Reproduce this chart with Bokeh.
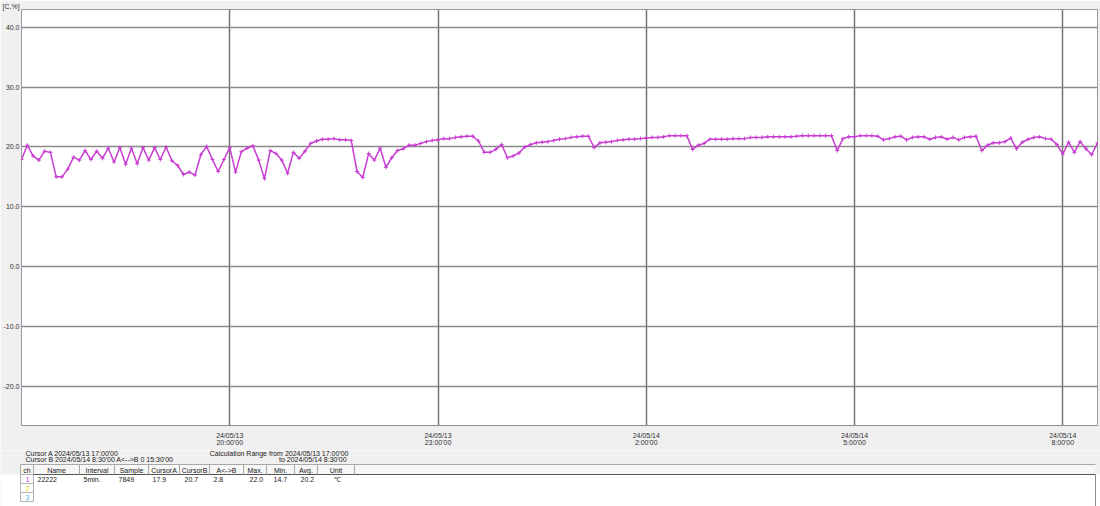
import pandas as pd
from bokeh.plotting import figure
from bokeh.layouts import column
from bokeh.models import Range1d, FixedTicker, ColumnDataSource, DatetimeAxis
from bokeh.embed import file_html
from bokeh.resources import INLINE
from bokeh.core.properties import value

FONT_NAME = "Liberation Sans"
FONT = value(FONT_NAME)
FS = "7px"

# channel 1 "22222" [°C], 5-minute samples from 2024/05/13 17:00 to 2024/05/14 8:30
temps_17_20 = [17.9, 20.3, 18.5, 17.8, 19.3, 19.1, 15.0, 15.0, 16.3, 18.3, 17.8, 19.4,
               17.9, 19.3, 18.1, 19.8, 17.5, 19.9, 17.1, 19.8, 17.2, 19.9, 17.8, 19.9,
               17.9, 20.0, 17.7, 16.9, 15.4, 15.8, 15.3, 18.7, 20.1, 17.9, 15.9, 17.9]
temps_20_23 = [19.9, 15.8, 19.2, 19.8, 20.2, 17.8, 14.7, 19.4, 18.9, 17.8, 15.6, 19.1,
               18.1, 19.3, 20.6, 21.0, 21.3, 21.3, 21.4, 21.2, 21.2, 21.1, 15.9, 14.9,
               18.9, 17.8, 19.8, 16.6, 18.2, 19.4, 19.7, 20.3, 20.3, 20.6, 20.9, 21.1]
temps_23_02 = [21.2, 21.4, 21.4, 21.6, 21.7, 21.8, 21.8, 21.0, 19.1, 19.1, 19.6, 20.4,
               18.2, 18.5, 19.0, 20.0, 20.4, 20.7, 20.8, 20.9, 21.1, 21.3, 21.4, 21.6,
               21.7, 21.8, 21.8, 19.9, 20.7, 20.8, 20.9, 21.1, 21.2, 21.3, 21.3, 21.4]
temps_02_05 = [21.5, 21.6, 21.6, 21.7, 21.9, 21.9, 21.9, 21.9, 19.6, 20.3, 20.6, 21.3,
               21.3, 21.3, 21.3, 21.4, 21.4, 21.4, 21.6, 21.6, 21.6, 21.7, 21.7, 21.7,
               21.7, 21.7, 21.8, 21.9, 21.9, 21.9, 21.9, 21.9, 21.9, 19.4, 21.4, 21.7]
temps_05_08 = [21.7, 21.9, 21.9, 21.9, 21.8, 21.2, 21.4, 21.7, 21.8, 21.2, 21.6, 21.7,
               21.7, 21.3, 21.6, 21.7, 21.3, 21.6, 21.2, 21.6, 21.7, 21.8, 19.4, 20.3,
               20.7, 20.7, 20.9, 21.5, 19.7, 20.8, 21.3, 21.6, 21.7, 21.4, 21.3, 20.4]
temps_08_0830 = [18.8, 20.8, 19.1, 20.9, 19.7, 18.7, 20.7]

start_time = "2024-05-13 17:00"
end_time = "2024-05-14 08:30"
sample_interval = "5min"

y_ticks = [40, 30, 20, 10, 0, -10, -20]
y_tick_labels = ["40.0", "30.0", "20.0", "10.0", "0.0", "-10.0", "-20.0"]
x_tick_times = ["2024-05-13 20:00", "2024-05-13 23:00", "2024-05-14 02:00",
                "2024-05-14 05:00", "2024-05-14 08:00"]
x_tick_labels = ["24/05/13\n20:00'00", "24/05/13\n23:00'00", "24/05/14\n2:00'00",
                 "24/05/14\n5:00'00", "24/05/14\n8:00'00"]

cursor_lines = ["Cursor A 2024/05/13 17:00'00",
                "Cursor B 2024/05/14  8:30'00  A<-->B 0 15:30'00"]
calc_lines = ["Calculation Range from 2024/05/13 17:00'00",
              "to 2024/05/14  8:30'00"]
table_headers = ["ch", "Name", "Interval", "Sample", "CursorA", "CursorB",
                 "A<->B", "Max.", "Min.", "Avg.", "Unit"]
table_row1 = ["1", "22222", "5min.", "7849", "17.9", "20.7", "2.8", "22.0", "14.7", "20.2", "℃"]
channel_ids = ["1", "2", "3"]
channel_colors = ["#c83cd2", "#e6d200", "#3cb4dc"]

temps = temps_17_20 + temps_20_23 + temps_23_02 + temps_02_05 + temps_05_08 + temps_08_0830
times = pd.date_range(start_time, periods=len(temps), freq=sample_interval)

def ms(t):
    return pd.Timestamp(t).value // 10**6

# ---------- main chart ----------
W = 1100
H1 = 450
x0, x1 = ms(start_time), ms(end_time)
y0, y1 = -26.61, 43.01

p = figure(width=W, height=H1, x_axis_type="datetime",
           x_range=Range1d(x0, x1), y_range=Range1d(y0, y1),
           output_backend="svg", toolbar_location=None,
           min_border_left=21, min_border_right=3,
           min_border_top=9, min_border_bottom=25)
p.frame_align = False
p.border_fill_color = "#f0f0f0"
p.background_fill_color = "white"
p.outline_line_color = "#9a9a9a"

# unit caption in the top strip
p.title.text = "[C,%]"
p.title.text_font = FONT_NAME
p.title.text_font_size = FS
p.title.text_font_style = "normal"
p.title.text_color = "#303030"
p.title.standoff = 0
p.title.offset = -19

xaxis = p.xaxis[0]
tick_ms = [ms(t) for t in x_tick_times]
xaxis.ticker = FixedTicker(ticks=tick_ms)
xaxis.major_label_overrides = {t: l for t, l in zip(tick_ms, x_tick_labels)}
p.yaxis.ticker = FixedTicker(ticks=y_ticks)
p.yaxis.major_label_overrides = {t: l for t, l in zip(y_ticks, y_tick_labels)}

for ax in (xaxis, p.yaxis[0]):
    ax.major_tick_out = 0
    ax.major_tick_in = 0
    ax.minor_tick_out = 0
    ax.minor_tick_in = 0
    ax.axis_line_color = None
    ax.major_label_text_font = FONT_NAME
    ax.major_label_text_font_size = FS
    ax.major_label_text_color = "#303030"
xaxis.major_label_standoff = 6
xaxis.major_label_text_line_height = 1.0
xaxis.axis_line_color = "#8c8c8c"      # lower edge of the scroll bar
p.yaxis.major_label_standoff = 2

# thin empty axis: the scroll bar strip between plot area and the time labels
scroll_axis = DatetimeAxis(ticker=FixedTicker(ticks=[]), major_tick_out=5, major_tick_in=0,
                           minor_tick_out=0, minor_tick_in=0, major_label_standoff=0,
                           axis_line_color=None, major_label_text_font_size="0px")
p.below = [scroll_axis] + list(p.below)

p.xgrid.grid_line_color = "#747474"
p.xgrid.grid_line_width = 1.5
p.ygrid.grid_line_color = "#8a8a8a"
p.ygrid.grid_line_width = 1.5

src = ColumnDataSource(dict(t=times, v=temps))
p.line("t", "v", source=src, line_color="#c83cd2", line_width=1.5)
p.scatter("t", "v", source=src, marker="cross", size=4, line_color="#c83cd2", line_width=1)

# ---------- info panel (cursor texts + channel table) ----------
H2 = 506 - H1
y_top = H1
q = figure(width=W, height=H2, x_range=Range1d(0, W), y_range=Range1d(y_top + H2, y_top),
           output_backend="svg", toolbar_location=None,
           x_axis_location=None, y_axis_location=None,
           min_border=0, min_border_left=0, min_border_right=0,
           min_border_top=0, min_border_bottom=0)
q.frame_align = False
q.grid.visible = False
q.outline_line_color = None
q.background_fill_color = "#f0f0f0"
q.border_fill_color = "#f0f0f0"

# table area
q.quad(left=0, right=W, top=474, bottom=y_top + H2, fill_color="white", line_color=None)
q.quad(left=20, right=1095, top=464, bottom=474, fill_color="#f7f7f7", line_color=None)
q.segment(x0=20, y0=464, x1=1095, y1=464, line_color="#a8a8a8", line_width=1)
q.segment(x0=20, y0=474, x1=1095, y1=474, line_color="#555555", line_width=1)
q.segment(x0=1095, y0=474, x1=1095, y1=506, line_color="#8c8c8c", line_width=1)

col_edges = [20, 33, 79, 114, 148, 179, 209, 243, 266, 294, 317, 354]
q.segment(x0=col_edges, y0=[464] * len(col_edges), x1=col_edges, y1=[474] * len(col_edges),
          line_color="#a8a8a8", line_width=1)
hdr_x = [(a + b) / 2 for a, b in zip(col_edges[:-1], col_edges[1:])]
q.text(x=hdr_x, y=[469.5] * len(hdr_x), text=table_headers, text_font=FONT,
       text_font_size=FS, text_color="#202020", text_align="center", text_baseline="middle")

val_x = [27, 37, 83, 118, 152, 184, 213, 249, 273, 300, 333]
q.text(x=val_x[1:], y=[478.5] * (len(val_x) - 1), text=table_row1[1:], text_font=FONT,
       text_font_size=FS, text_color="#202020", text_align="left", text_baseline="middle")

ch_tops = [474, 483, 492]
q.quad(left=[20] * 3, right=[33] * 3, top=ch_tops, bottom=[t + 9 for t in ch_tops],
       fill_color="white", line_color="#b0b0b0", line_width=1)
q.text(x=[27] * 3, y=[t + 4.5 for t in ch_tops], text=channel_ids, text_color=channel_colors,
       text_font=FONT, text_font_size=FS, text_align="center", text_baseline="middle")

q.text(x=[25, 25], y=[452.5, 458.5], text=cursor_lines, text_font=FONT,
       text_font_size=FS, text_color="#202020", text_align="left", text_baseline="middle")
q.text(x=[348, 348], y=[452.5, 458.5], text=calc_lines, text_font=FONT,
       text_font_size=FS, text_color="#202020", text_align="right", text_baseline="middle")

layout = column(p, q, spacing=0)
open("out.html", "w").write(file_html(layout, INLINE))
